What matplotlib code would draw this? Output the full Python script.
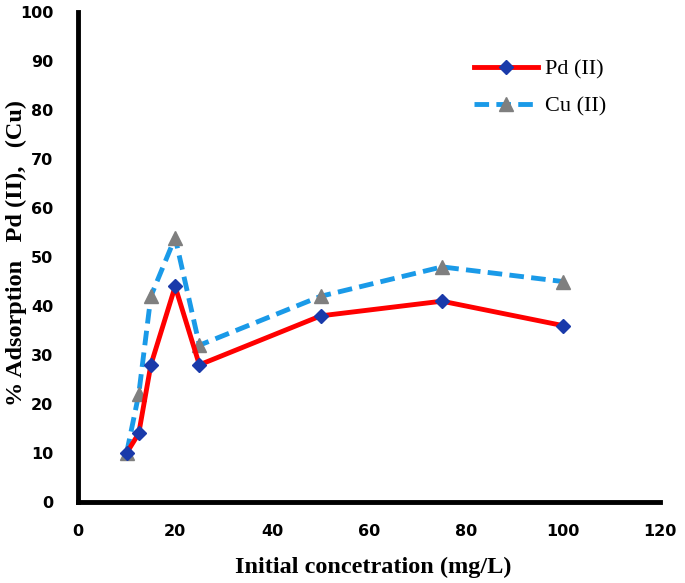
import matplotlib.pyplot as plt

conc = [10, 12.5, 15, 20, 25, 50, 75, 100]
pd_ads = [10, 14, 28, 44, 28, 38, 41, 36]
cu_ads = [10, 22, 42, 54, 32, 42, 48, 45]

xticks = [0, 20, 40, 60, 80, 100, 120]
yticks = [0, 10, 20, 30, 40, 50, 60, 70, 80, 90, 100]

fig = plt.figure(figsize=(6.85, 5.83), dpi=100)
ax = fig.add_axes([0.114, 0.139, 0.85, 0.84])

ax.plot(conc, pd_ads, "-", color="#ff0000", lw=3.5, marker="D", ms=7.5,
        mfc="#1a3aaa", mec="#1a3aaa", label="Pd (II)", zorder=3)
ax.plot(conc, cu_ads, "--", color="#1a9ae8", lw=3.5, dashes=(3, 1.5), marker="^",
        ms=10, mfc="#7f7f7f", mec="#7f7f7f", label="Cu (II)", zorder=2)

ax.set_xlim(0, 120)
ax.set_ylim(0, 100)
ax.set_xticks(xticks)
ax.set_yticks(yticks)
ax.tick_params(axis="y", length=0, pad=18, labelsize=11.5)
ax.tick_params(axis="x", length=0, pad=16, labelsize=11.5)
for lab in ax.get_xticklabels() + ax.get_yticklabels():
    lab.set_fontweight("bold")
    lab.set_family("DejaVu Sans")

for s in ["top", "right"]:
    ax.spines[s].set_visible(False)
for s in ["left", "bottom"]:
    ax.spines[s].set_linewidth(3.5)
    ax.spines[s].set_color("black")

ax.set_xlabel("Initial concetration (mg/L)", family="Liberation Serif",
              fontweight="bold", fontsize=17.5)
ax.set_ylabel("% Adsorption   Pd (II),   (Cu)", family="Liberation Serif",
              fontweight="bold", fontsize=17.5)
ax.xaxis.set_label_coords(0.507, -0.112)
ax.yaxis.set_label_coords(-0.088, 0.508)

leg = ax.legend(loc="upper left", bbox_to_anchor=(0.645, 0.945), frameon=False,
                prop={"family": "Liberation Serif", "size": 16},
                handlelength=2.9, handletextpad=0.3, labelspacing=0.75)

fig.savefig("out.png", dpi=100)
